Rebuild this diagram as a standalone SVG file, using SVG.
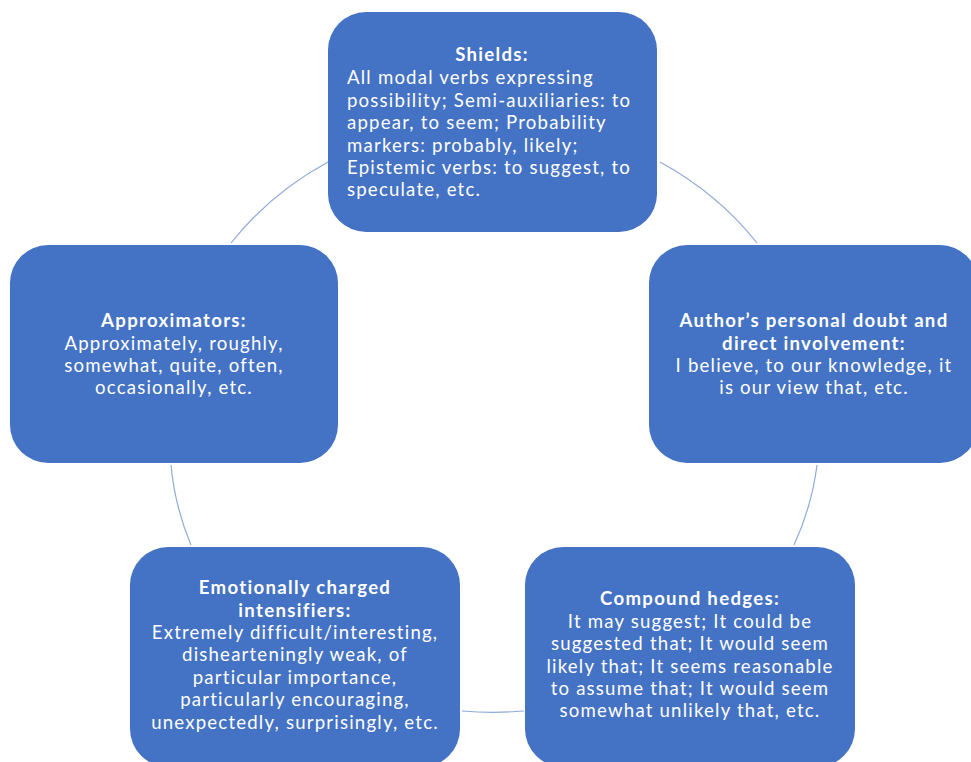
<svg xmlns="http://www.w3.org/2000/svg" width="971" height="762" viewBox="0 0 971 762">
<style>
.box{fill:#4472C4;}
.t{font-family:Lato,"Liberation Sans",sans-serif;font-size:18.6px;letter-spacing:1.2px;fill:#FFFFFF;}
.h{font-weight:bold;font-size:18.6px;letter-spacing:1.3px;}
.c{text-anchor:middle;}
.con{fill:none;stroke:#8FAADC;stroke-width:1.2;}
</style>
<rect width="971" height="762" fill="#FFFFFF"/>
<g id="connectors">
<path class="con" d="M660,162 A327,295.5 0 0 1 757,243"/>
<path class="con" d="M817,465 A327,295.5 0 0 1 794,545"/>
<path class="con" d="M524,711 A327,295.5 0 0 1 462,711"/>
<path class="con" d="M191,545 A327,295.5 0 0 1 171,465"/>
<path class="con" d="M231,243 A327,295.5 0 0 1 328,162"/>
</g>
<g id="shields">
<rect class="box" x="328" y="12" width="329" height="220" rx="38"/>
<text class="t h c" x="492" y="61">Shields:</text>
<text class="t" x="347" y="84">All modal verbs expressing</text>
<text class="t" x="347" y="106.5">possibility; Semi-auxiliaries: to</text>
<text class="t" x="347" y="129">appear, to seem; Probability</text>
<text class="t" x="347" y="151.5">markers: probably, likely;</text>
<text class="t" x="347" y="174">Epistemic verbs: to suggest, to</text>
<text class="t" x="347" y="196">speculate, etc.</text>
</g>
<g id="author">
<rect class="box" x="649" y="245" width="329" height="218" rx="38"/>
<text class="t h c" x="814" y="327">Author’s personal doubt and</text>
<text class="t h c" x="814" y="349.5">direct involvement:</text>
<text class="t c" x="814" y="372">I believe, to our knowledge, it</text>
<text class="t c" x="814" y="394">is our view that, etc.</text>
</g>
<g id="compound">
<rect class="box" x="525" y="547" width="330" height="220" rx="38"/>
<text class="t h c" x="690" y="605">Compound hedges:</text>
<text class="t c" x="690" y="628">It may suggest; It could be</text>
<text class="t c" x="690" y="650">suggested that; It would seem</text>
<text class="t c" x="690" y="672.5">likely that; It seems reasonable</text>
<text class="t c" x="690" y="694.5">to assume that; It would seem</text>
<text class="t c" x="690" y="717">somewhat unlikely that, etc.</text>
</g>
<g id="emotionally">
<rect class="box" x="130" y="547" width="330" height="220" rx="38"/>
<text class="t h c" x="295" y="594">Emotionally charged</text>
<text class="t h c" x="295" y="616.5">intensifiers:</text>
<text class="t c" x="295" y="639">Extremely difficult/interesting,</text>
<text class="t c" x="295" y="661">dishearteningly weak, of</text>
<text class="t c" x="295" y="683.5">particular importance,</text>
<text class="t c" x="295" y="706">particularly encouraging,</text>
<text class="t c" x="295" y="728.5">unexpectedly, surprisingly, etc.</text>
</g>
<g id="approximators">
<rect class="box" x="10" y="245" width="328" height="218" rx="38"/>
<text class="t h c" x="174" y="327">Approximators:</text>
<text class="t c" x="174" y="349.5">Approximately, roughly,</text>
<text class="t c" x="174" y="372">somewhat, quite, often,</text>
<text class="t c" x="174" y="394">occasionally, etc.</text>
</g>
</svg>
